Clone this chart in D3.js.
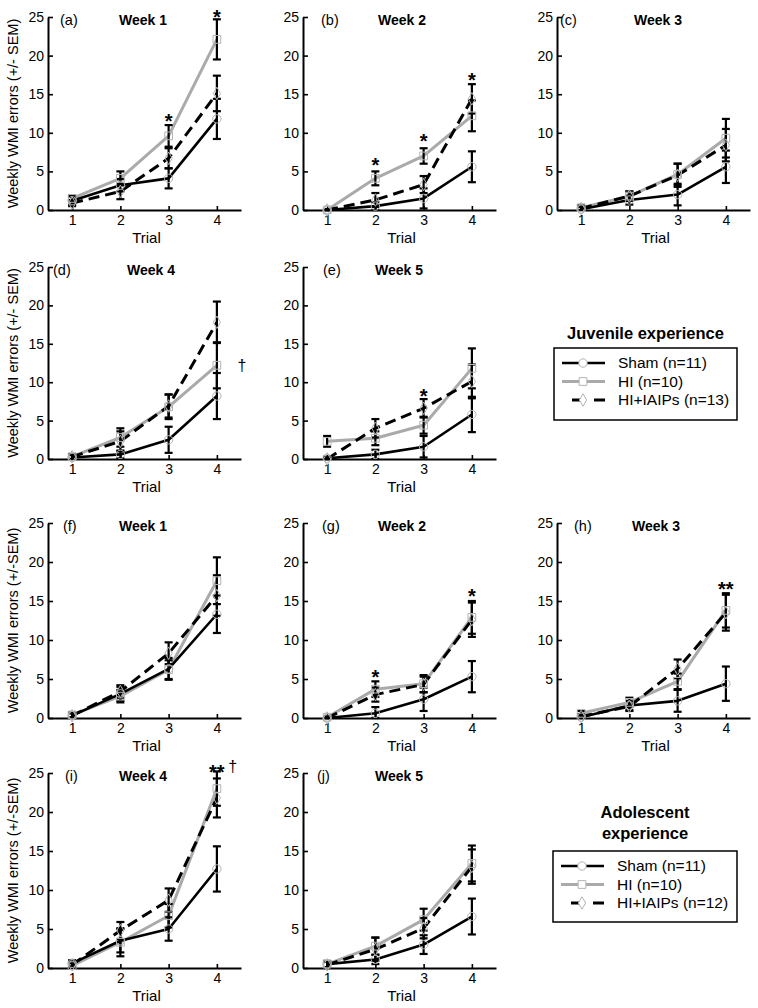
<!DOCTYPE html>
<html><head><meta charset="utf-8">
<script src="https://cdn.jsdelivr.net/npm/d3@7"></script>
<style>body{margin:0;background:#fff} svg{display:block} text{font-family:"Liberation Sans",Arial,sans-serif;fill:#000}</style>
</head><body><svg id="c" width="758" height="1008"></svg>
<script>
// ---------- data ----------
const trials = [1, 2, 3, 4];
const yTickValues = [0, 5, 10, 15, 20, 25];
const panelLetters = ["(a)","(b)","(c)","(d)","(e)","(f)","(g)","(h)","(i)","(j)"];
const panelWeeks = ["Week 1","Week 2","Week 3","Week 4","Week 5","Week 1","Week 2","Week 3","Week 4","Week 5"];
const groupNamesJuvenile = ["Sham (n=11)", "HI (n=10)", "HI+IAIPs (n=13)"];
const groupNamesAdolescent = ["Sham (n=11)", "HI (n=10)", "HI+IAIPs (n=12)"];
const legendTitleJuvenile = ["Juvenile experience"];
const legendTitleAdolescent = ["Adolescent", "experience"];
const yTitleJuvenile = "Weekly WMI errors (+/- SEM)";
const yTitleAdolescent = "Weekly WMI errors (+/-SEM)";

const shamMean = [
 [1.2, 3.2, 4.1, 11.8],
 [0.0, 0.5, 1.5, 5.6],
 [0.1, 1.3, 2.0, 5.6],
 [0.2, 0.6, 2.5, 8.2],
 [0.1, 0.6, 1.6, 5.8],
 [0.3, 3.1, 6.3, 13.3],
 [0.0, 0.6, 2.4, 5.3],
 [0.1, 1.6, 2.2, 4.4],
 [0.6, 3.5, 5.0, 12.7],
 [0.5, 1.1, 3.0, 6.6]];
const shamSem = [
 [0.5, 0.8, 1.3, 2.6],
 [0.1, 0.5, 1.3, 2.0],
 [0.3, 0.6, 1.4, 2.1],
 [0.3, 0.5, 1.7, 3.0],
 [0.2, 0.6, 1.4, 2.3],
 [0.3, 0.9, 1.4, 2.4],
 [0.1, 0.8, 1.5, 2.0],
 [0.3, 0.6, 1.4, 2.2],
 [0.4, 1.5, 1.5, 2.9],
 [0.4, 0.6, 1.2, 2.3]];
const hiMean = [
 [1.5, 4.1, 9.6, 22.1],
 [0.0, 4.1, 7.0, 12.2],
 [0.3, 1.8, 4.6, 9.3],
 [0.3, 2.8, 6.8, 12.2],
 [2.3, 2.7, 4.4, 11.8],
 [0.4, 2.8, 6.2, 17.6],
 [0.1, 3.7, 4.4, 12.9],
 [0.6, 2.0, 4.7, 13.8],
 [0.3, 3.3, 6.7, 23.0],
 [0.5, 2.8, 6.2, 13.4]];
const hiSem = [
 [0.4, 0.9, 1.4, 2.6],
 [0.1, 0.9, 1.0, 2.0],
 [0.3, 0.6, 1.4, 2.5],
 [0.3, 1.2, 1.6, 3.0],
 [0.7, 0.9, 1.1, 2.6],
 [0.3, 0.8, 1.2, 3.0],
 [0.1, 1.0, 1.1, 2.1],
 [0.3, 0.6, 1.0, 2.2],
 [0.3, 1.8, 1.5, 2.2],
 [0.4, 1.1, 1.4, 2.3]];
const iaipMean = [
 [0.9, 2.4, 6.7, 15.1],
 [0.0, 1.3, 3.3, 14.4],
 [0.2, 1.8, 4.5, 8.4],
 [0.3, 2.3, 6.9, 17.8],
 [0.0, 4.0, 6.6, 10.1],
 [0.3, 3.4, 8.3, 15.7],
 [0.0, 3.0, 4.3, 12.6],
 [0.2, 1.5, 6.3, 13.5],
 [0.4, 4.8, 8.7, 21.8],
 [0.4, 2.4, 5.1, 13.0]];
const iaipSem = [
 [0.4, 1.0, 1.3, 2.3],
 [0.1, 0.9, 1.1, 1.9],
 [0.3, 0.6, 1.5, 2.1],
 [0.3, 1.3, 1.5, 2.7],
 [0.2, 1.2, 1.2, 2.2],
 [0.3, 0.8, 1.4, 2.6],
 [0.1, 0.9, 1.0, 2.2],
 [0.3, 0.6, 1.2, 2.3],
 [0.4, 1.1, 1.5, 2.5],
 [0.4, 1.5, 1.3, 2.2]];

// significance marks: panel index, trial position, value (y), text
const annotPanel = [0, 0, 1, 1, 1, 3, 4, 6, 6, 7, 8, 8];
const annotTrial = [3, 4, 2, 3, 4, 4.52, 3, 2, 4, 4, 4, 4.33];
const annotValue = [12.0, 25.5, 6.4, 9.4, 17.4, 12.1, 8.7, 5.8, 16.1, 17.1, 25.6, 25.8];
const annotText = ["*", "*", "*", "*", "*", "\u2020", "*", "*", "*", "**", "**", "\u2020"];

// ---------- layout ----------
const rowTop = [17, 267, 523, 773];
const rowBottom = [210, 459, 718, 968];
const colLeft = [48, 303, 557];
const plotW = 193;
const panelRow = [0, 0, 0, 1, 1, 2, 2, 2, 3, 3];
const panelCol = [0, 1, 2, 0, 1, 0, 1, 2, 0, 1];
const letterDx = [12, 18, 3, 5, 20, 15, 19, 17, 17, 14];
const weekDx = [95, 99, 101, 103, 96, 95, 99, 99, 95, 96];

const styles = [
  {color: "#000", width: 2.6, dash: null, symbol: d3.symbolCircle, size: 55},
  {color: "#aaaaaa", width: 3, dash: null, symbol: d3.symbolSquare, size: 60},
  {color: "#000", width: 3, dash: "11,6", symbol: d3.symbolDiamond, size: 45}
];
const markerColor = "#b4b4b4";

const svg = d3.select("#c");

panelLetters.forEach((letter, p) => {
  const r = panelRow[p], c = panelCol[p];
  const x = d3.scaleLinear().domain([0.5, 4.5]).range([colLeft[c], colLeft[c] + plotW]);
  const y = d3.scaleLinear().domain([0, 25]).range([rowBottom[r], rowTop[r]]);
  const g = svg.append("g");

  // axes
  const ya = g.append("g").attr("transform", `translate(${colLeft[c]},0)`)
    .call(d3.axisLeft(y).tickValues(yTickValues).tickSize(-5).tickSizeOuter(0).tickPadding(4).tickFormat(d3.format("d")));
  const xa = g.append("g").attr("transform", `translate(0,${rowBottom[r]})`)
    .call(d3.axisBottom(x).tickValues(trials).tickSize(-4).tickSizeOuter(0).tickPadding(5).tickFormat(d3.format("d")));
  [ya, xa].forEach(a => {
    a.select(".domain").attr("stroke", "#000").attr("stroke-width", 2);
    a.selectAll(".tick line").attr("stroke", "#000").attr("stroke-width", 1.6);
    a.selectAll(".tick text").attr("font-size", 14).attr("font-family", "Liberation Sans, Arial, sans-serif").attr("fill", "#000");
  });

  // labels
  g.append("text").attr("x", colLeft[c] + letterDx[p]).attr("y", rowTop[r] + 8)
    .attr("font-size", 14.5).text(letter);
  g.append("text").attr("x", colLeft[c] + weekDx[p]).attr("y", rowTop[r] + 8)
    .attr("text-anchor", "middle").attr("font-size", 14).attr("font-weight", "bold").text(panelWeeks[p]);
  g.append("text").attr("x", colLeft[c] + plotW / 2 + 2).attr("y", rowBottom[r] + 33)
    .attr("text-anchor", "middle").attr("font-size", 15).text("Trial");
  if (c === 0) {
    g.append("text")
      .attr("transform", `translate(13,${(rowTop[r] + rowBottom[r]) / 2}) rotate(-90)`)
      .attr("text-anchor", "middle").attr("dy", "0.35em").attr("font-size", 14.5)
      .text(r < 2 ? yTitleJuvenile : yTitleAdolescent);
  }

  const means = [shamMean[p], hiMean[p], iaipMean[p]];
  const sems = [shamSem[p], hiSem[p], iaipSem[p]];
  const line = d3.line().x((d, i) => x(trials[i])).y(d => y(d));

  // lines (gray first)
  [1, 0, 2].forEach(k => {
    g.append("path").datum(means[k]).attr("d", line)
      .attr("fill", "none").attr("stroke", styles[k].color)
      .attr("stroke-width", styles[k].width)
      .attr("stroke-dasharray", styles[k].dash)
      .attr("stroke-linejoin", "round");
  });

  // error bars
  [0, 1, 2].forEach(k => {
    means[k].forEach((m, i) => {
      const lo = y(Math.max(0, m - sems[k][i])), hi = y(m + sems[k][i]), xx = x(trials[i]);
      g.append("line").attr("x1", xx).attr("x2", xx).attr("y1", lo).attr("y2", hi)
        .attr("stroke", "#000").attr("stroke-width", 2.2);
      [lo, hi].forEach(yy => g.append("line").attr("x1", xx - 4).attr("x2", xx + 4)
        .attr("y1", yy).attr("y2", yy).attr("stroke", "#000").attr("stroke-width", 2.2));
    });
  });

  // markers
  [0, 1, 2].forEach(k => {
    g.selectAll(null).data(means[k]).enter().append("path")
      .attr("transform", (d, i) => `translate(${x(trials[i])},${y(d)})`)
      .attr("d", d3.symbol().type(styles[k].symbol).size(styles[k].size))
      .attr("fill", "none").attr("stroke", markerColor).attr("stroke-width", 1);
  });

  // annotations
  annotPanel.forEach((ap, j) => {
    if (ap !== p) return;
    const isDagger = annotText[j] === "\u2020";
    g.append("text").attr("x", x(annotTrial[j])).attr("y", y(annotValue[j]))
      .attr("text-anchor", "middle")
      .attr("dy", isDagger ? 5 : 11)
      .attr("font-size", isDagger ? 16 : 20)
      .attr("font-weight", isDagger ? "normal" : "bold")
      .text(annotText[j]);
  });
});

// ---------- legends ----------
function drawLegend(titleLines, titleY, box, names) {
  const g = svg.append("g");
  titleLines.forEach((t, i) => g.append("text").attr("x", (box.x0 + box.x1) / 2).attr("y", titleY + i * 21)
    .attr("text-anchor", "middle").attr("font-size", 16.5).attr("font-weight", "bold").text(t));
  g.append("rect").attr("x", box.x0).attr("y", box.y0).attr("width", box.x1 - box.x0).attr("height", box.y1 - box.y0)
    .attr("fill", "#fff").attr("stroke", "#000").attr("stroke-width", 1.5);
  const yPos = d3.scalePoint().domain(names).range([box.y0 + 15, box.y0 + 52]);
  names.forEach((n, k) => {
    const yy = yPos(n);
    const st = styles[k];
    g.append("line").attr("x1", k === 2 ? box.x0 + 18 : box.x0 + 8).attr("x2", box.x0 + 51)
      .attr("y1", yy).attr("y2", yy).attr("stroke", st.color).attr("stroke-width", st.width)
      .attr("stroke-dasharray", k === 2 ? "14,8" : null);
    g.append("path").attr("transform", `translate(${box.x0 + 29},${yy})`)
      .attr("d", d3.symbol().type(st.symbol).size(st.size))
      .attr("fill", "#fff").attr("stroke", markerColor).attr("stroke-width", 1);
    g.append("text").attr("x", box.x0 + 64).attr("y", yy).attr("dy", "0.35em")
      .attr("font-size", 15.5).text(n);
  });
}
drawLegend(legendTitleJuvenile, 339, {x0: 554, x1: 737, y0: 348, y1: 420}, groupNamesJuvenile);
drawLegend(legendTitleAdolescent, 818, {x0: 553, x1: 737, y0: 851, y1: 922}, groupNamesAdolescent);
</script></body></html>
